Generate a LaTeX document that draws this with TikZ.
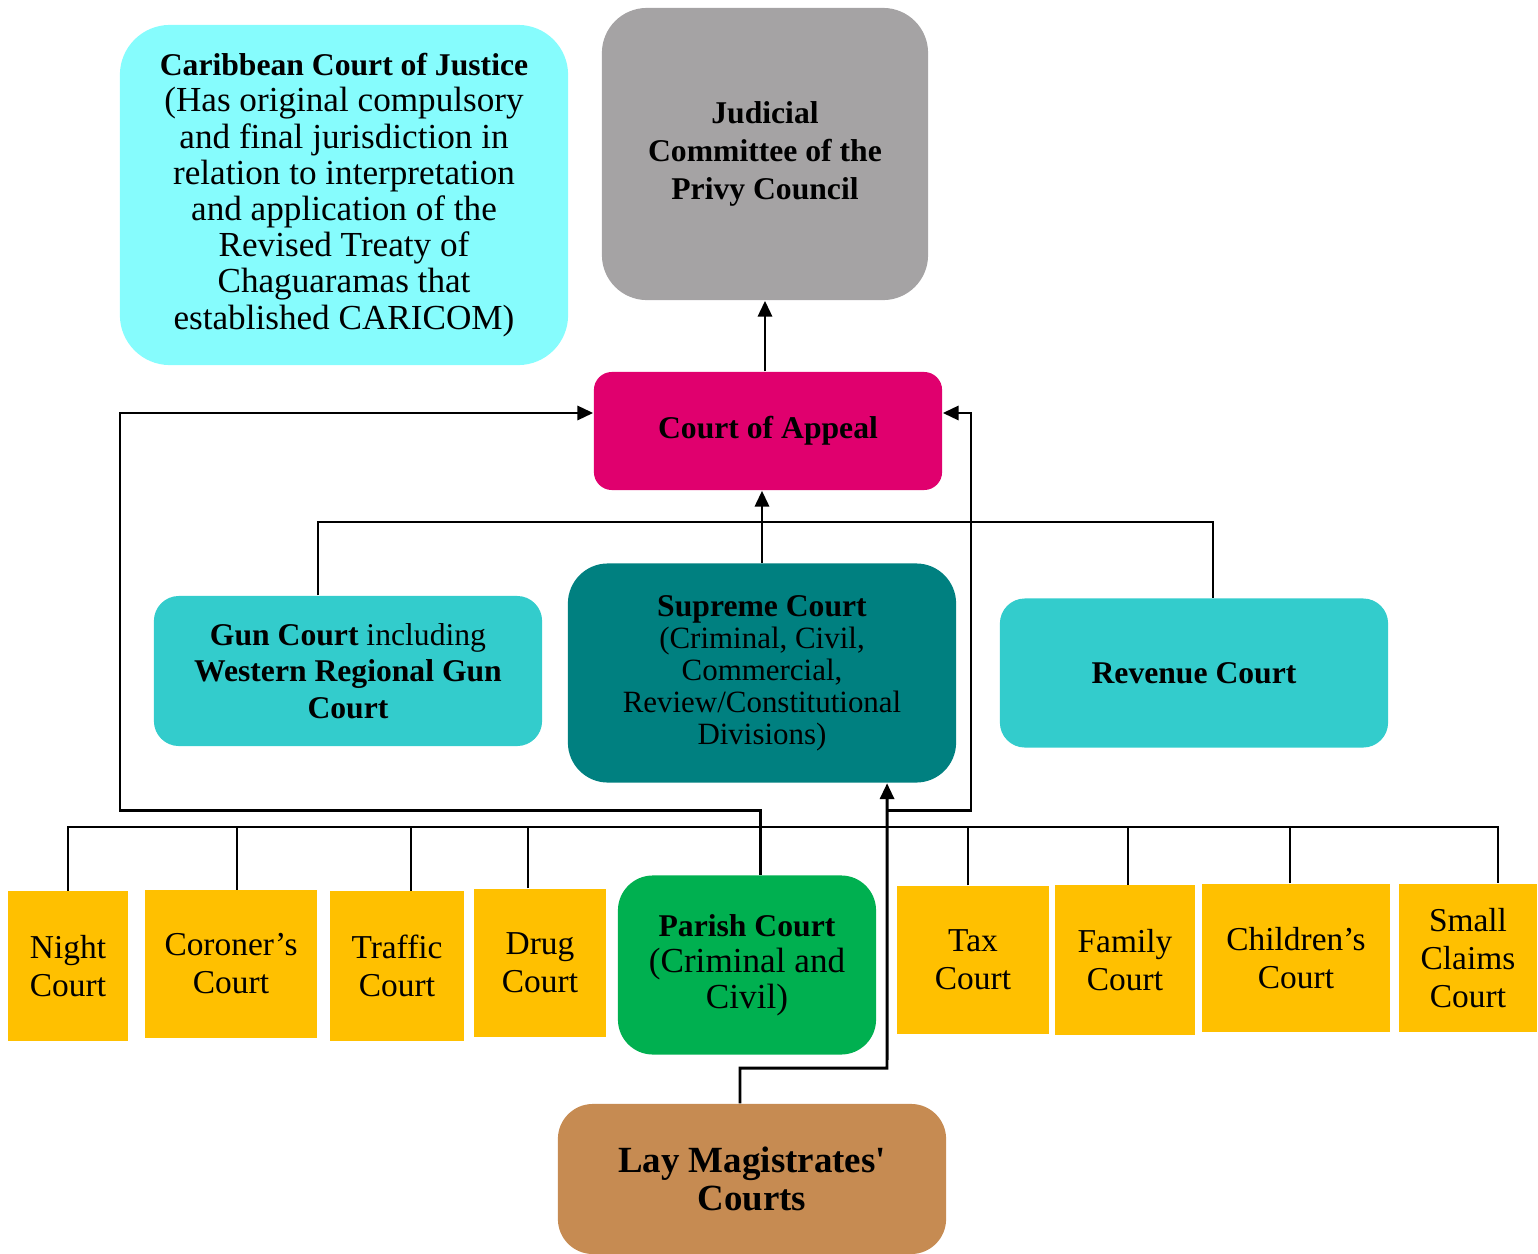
\documentclass[tikz,border=0pt]{standalone}
\usepackage{fontspec}
\setmainfont{Liberation Serif}
\usetikzlibrary{arrows.meta,positioning}
\definecolor{ccjcyan}{RGB}{134,252,253}
\definecolor{privygrey}{RGB}{165,163,164}
\definecolor{appealred}{RGB}{224,0,110}
\definecolor{gunteal}{RGB}{51,204,204}
\definecolor{supremeteal}{RGB}{0,128,128}
\definecolor{loweryellow}{RGB}{255,192,0}
\definecolor{parishgreen}{RGB}{0,176,80}
\definecolor{laybrown}{RGB}{198,139,82}
\tikzset{court node/.style={rectangle, align=center, inner sep=0pt, text=black}}
\tikzset{dims/.style 2 args={minimum width=#1cm, minimum height=#2cm}}
\tikzset{lower court/.style={court node, fill=loweryellow, font=\fontsize{9.5}{10.8}\selectfont}}
\tikzset{regular edge/.style={draw=black, line width=0.6pt}}
\tikzset{appeal edge/.style={regular edge, line width=0.85pt, -{Triangle[length=4.5pt,width=4pt]}}}
\newcommand{\headline}[1]{{\fontsize{9}{10.25}\selectfont\bfseries #1}}

\begin{document}
\begin{tikzpicture}
  [x=0.01cm, y=-0.01cm]
  \useasboundingbox (0,0) rectangle (1538,1254);

  \node [court node, dims={4.48}{3.40}, fill=ccjcyan, rounded corners=0.5cm, font=\fontsize{10}{10.3}\selectfont]
        (ccj)      at ( 344, 195) {\headline{Caribbean Court of Justice}\\(Has original compulsory\\and final jurisdiction in\\relation to interpretation\\and application of the\\Revised Treaty of\\Chaguaramas that\\established CARICOM)};
  \node [court node, dims={3.26}{2.92}, fill=privygrey, rounded corners=0.45cm, font=\fontsize{9}{10.7}\selectfont\bfseries]
        (jcpc)     at ( 765, 154) {Judicial\\Committee of the\\Privy Council};
  \node [court node, dims={3.48}{1.18}, fill=appealred, rounded corners=0.18cm, font=\fontsize{9}{10.5}\selectfont\bfseries]
        (appeal)   at ( 768, 431) {Court of Appeal};
  \node [court node, dims={3.88}{1.50}, fill=gunteal, rounded corners=0.25cm, font=\fontsize{9}{10.4}\selectfont]
        (gun)      at ( 348, 671) {\textbf{Gun Court} including\\\textbf{Western Regional Gun}\\\textbf{Court}};
  \node [court node, dims={3.88}{2.19}, fill=supremeteal, rounded corners=0.4cm, font=\fontsize{8.8}{9.1}\selectfont]
        (supreme)  at ( 762, 673) {\headline{Supreme Court}\\(Criminal, Civil,\\Commercial,\\Review/Constitutional\\Divisions)};
  \node [court node, dims={3.88}{1.49}, fill=gunteal, rounded corners=0.25cm, font=\fontsize{9}{10.4}\selectfont\bfseries]
        (revenue)  at (1194, 673) {Revenue Court};

  \node [lower court, dims={1.20}{1.49}] (night)    at (  68, 966) {Night\\Court};
  \node [lower court, dims={1.71}{1.47}] (coroner)  at ( 231, 964) {Coroner’s\\Court};
  \node [lower court, dims={1.34}{1.49}] (traffic)  at ( 397, 966) {Traffic\\Court};
  \node [lower court, dims={1.31}{1.48}] (drug)     at ( 540, 963) {Drug\\Court};
  \node [court node, dims={2.58}{1.79}, fill=parishgreen, rounded corners=0.35cm, font=\fontsize{10}{10.25}\selectfont]
        (parish)   at ( 747, 965) {\headline{Parish Court}\\(Criminal and\\Civil)};
  \node [lower court, dims={1.52}{1.48}] (tax)      at ( 973, 960) {Tax\\Court};
  \node [lower court, dims={1.39}{1.49}] (family)   at (1125, 960) {Family\\Court};
  \node [lower court, dims={1.88}{1.48}] (children) at (1296, 958) {Children’s\\Court};
  \node [lower court, dims={1.37}{1.48}] (claims)   at (1468, 958) {Small\\Claims\\Court};
  \node [court node, dims={3.88}{1.50}, fill=laybrown, rounded corners=0.35cm, font=\fontsize{10.5}{10.6}\selectfont\bfseries]
        (lay)      at ( 752, 1179) {Lay Magistrates\textquotesingle\\Courts};

  \coordinate (upbus)     at ( 762, 522);
  \coordinate (lowbus)    at ( 762, 827);
  \coordinate (leftloop)  at ( 120, 810);
  \coordinate (rightloop) at ( 971, 810);
  \coordinate (laybend)   at ( 887, 1068);

  \draw [appeal edge]  (jcpc.south |- appeal.north) to (jcpc.south);
  \draw [appeal edge]  (supreme.north)           to (supreme.north |- appeal.south);
  \draw [regular edge] ([xshift=-3mm]gun.north)  |- (upbus) -| ([xshift=1.9mm]revenue.north);
  \draw [regular edge] (night.north)             |- (lowbus) -| ([xshift=3mm]claims.north);
  \foreach \court/\shift in {coroner/0.6mm, traffic/1.4mm, drug/-1.2mm, tax/-0.5mm, family/0.3mm, children/-0.6mm}
    \draw [regular edge] ([xshift=\shift]\court.north) -- ([xshift=\shift]\court.north |- lowbus);
  \draw [appeal edge]  ([xshift=1.3mm]parish.north) |- (leftloop) |- ([yshift=1.8mm]appeal.west);
  \draw [appeal edge]  ([xshift=-1.2mm]lay.north)   |- (laybend) -- ([xshift=12.5mm]supreme.south);
  \draw [appeal edge]  (laybend |- rightloop) -- (rightloop) |- ([yshift=1.8mm]appeal.east);
\end{tikzpicture}
\end{document}
